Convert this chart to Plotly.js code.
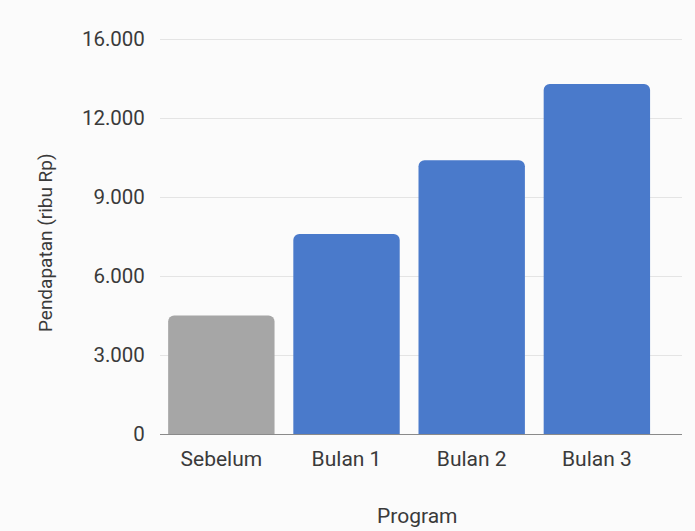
<!DOCTYPE html>
<html>
<head>
<meta charset="utf-8">
<script src="https://cdn.plot.ly/plotly-3.0.1.min.js"></script>
<style>html,body{margin:0;padding:0;background:#fbfbfb;}#chart{width:695px;height:531px;}</style>
</head>
<body>
<div id="chart"></div>
<script>
const categories = ["Sebelum", "Bulan 1", "Bulan 2", "Bulan 3"];
const values = [4500, 7600, 10400, 13300];
const barColors = ["#a6a6a6", "#4a7acb", "#4a7acb", "#4a7acb"];
const yTickVals = [0, 3000, 6000, 9000, 12000, 15000];
const yTickText = ["0", "3.000", "6.000", "9.000", "12.000", "16.000"];
const xTitle = "Program";
const yTitle = "Pendapatan (ribu Rp)";

const font = "Roboto, 'Open Sans', sans-serif";
const txt = "#3a3a3a";

Plotly.newPlot("chart", [{
  type: "bar",
  x: categories,
  y: values,
  marker: {color: barColors, cornerradius: 6},
  width: 0.85,
  hoverinfo: "none"
}], {
  width: 695,
  height: 531,
  paper_bgcolor: "#fbfbfb",
  plot_bgcolor: "#fbfbfb",
  margin: {l: 160, r: 13, t: 26, b: 97},
  showlegend: false,
  font: {family: font, size: 20, color: txt},
  xaxis: {
    type: "category",
    range: [-0.49, 3.68],
    showgrid: false,
    ticks: "outside",
    ticklen: 6,
    tickcolor: "rgba(0,0,0,0)",
    tickfont: {family: font, size: 21, color: txt},
    showline: false,
    zeroline: false,
    automargin: false
  },
  yaxis: {
    range: [0, 15500],
    tickvals: yTickVals,
    ticktext: yTickText,
    showgrid: true,
    gridcolor: "#e4e4e4",
    gridwidth: 1,
    zeroline: true,
    zerolinecolor: "#8a8a8a",
    zerolinewidth: 1,
    ticks: "outside",
    ticklen: 10,
    tickcolor: "rgba(0,0,0,0)",
    tickfont: {family: font, size: 20.5, color: txt},
    automargin: false
  },
  annotations: [
    {text: xTitle, xref: "paper", yref: "paper", x: 0.492, y: -0.201,
     xanchor: "center", yanchor: "middle", showarrow: false,
     font: {family: font, size: 21, color: txt}},
    {text: yTitle, xref: "paper", yref: "paper", x: -0.2203, y: 0.468,
     xanchor: "center", yanchor: "middle", showarrow: false, textangle: -90,
     font: {family: font, size: 19, color: txt}}
  ]
}, {displayModeBar: false, staticPlot: true});
</script>
</body>
</html>
